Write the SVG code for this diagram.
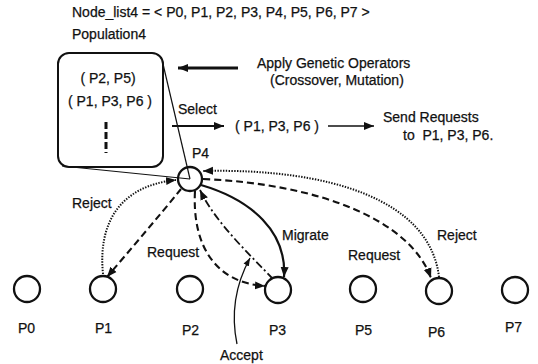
<svg xmlns="http://www.w3.org/2000/svg" width="538" height="364" viewBox="0 0 538 364">
<style>
text{font-family:"Liberation Sans",Arial,sans-serif;font-size:14px;fill:#111;stroke:#111;stroke-width:0.25}
.node{fill:#fff;stroke:#111;stroke-width:2.3}
.c{fill:none;stroke:#111}
.dash{stroke-width:2.1;stroke-dasharray:7 4}
.dot{stroke-width:2;stroke-dasharray:1.4 1.4}
.dd{stroke-width:1.8;stroke-dasharray:8 3 2 3}
</style>
<defs>
<marker id="ah" markerUnits="userSpaceOnUse" markerWidth="12" markerHeight="10" refX="10" refY="5" orient="auto">
<path d="M0,1 L10,5 L0,9 Z" fill="#111"/>
</marker>
<marker id="ahs" markerUnits="userSpaceOnUse" markerWidth="10" markerHeight="8" refX="8" refY="4" orient="auto">
<path d="M0,1 L8,4 L0,7 Z" fill="#111"/>
</marker>
</defs>

<text x="72" y="17">Node_list4 = &lt; P0, P1, P2, P3, P4, P5, P6, P7 &gt;</text>
<text x="72" y="39">Population4</text>

<g id="population-box">
<rect x="58" y="53" width="105" height="114" rx="11" fill="none" stroke="#111" stroke-width="2"/>
<text x="108" y="83" text-anchor="middle">( P2, P5)</text>
<text x="110" y="106" text-anchor="middle">( P1, P3, P6 )</text>
<line x1="106" y1="122" x2="106" y2="153" stroke="#111" stroke-width="3" stroke-dasharray="7 3"/>
</g>

<g id="callout" stroke="#111" stroke-width="1.2" fill="none">
<line x1="163" y1="64" x2="190" y2="179"/>
<line x1="62" y1="166" x2="190" y2="179"/>
</g>

<g id="apply-ops">
<line x1="238" y1="68" x2="178" y2="68" stroke="#111" stroke-width="3" marker-end="url(#ah)"/>
<text x="257" y="68">Apply Genetic Operators</text>
<text x="270" y="85">(Crossover, Mutation)</text>
</g>

<g id="select">
<text x="178" y="114">Select</text>
<line x1="172" y1="126" x2="224" y2="126" stroke="#111" stroke-width="2.2" marker-end="url(#ah)"/>
<text x="235" y="131">( P1, P3, P6 )</text>
<line x1="328" y1="126" x2="374" y2="126" stroke="#111" stroke-width="1.6" marker-end="url(#ah)"/>
<text x="383" y="122">Send Requests</text>
<text x="403" y="140" xml:space="preserve">to  P1, P3, P6.</text>
</g>

<g id="P4">
<circle cx="190" cy="179" r="12" fill="none" stroke="#111" stroke-width="2.3"/>
<text x="192" y="158">P4</text>
</g>

<g id="connectors">
<path class="c dot" d="M103,274 C98,225 118,186 176,180" marker-end="url(#ah)"/>
<path class="c dash" d="M181,189 C160,215 130,250 107,277" marker-end="url(#ah)"/>
<path class="c dash" d="M195,191 C192,245 215,283 265,286" marker-end="url(#ah)"/>
<path class="c dd" d="M273,279 C250,255 215,222 200,190" marker-end="url(#ah)"/>
<path class="c" stroke-width="2.2" d="M201,185 C252,200 287,232 284,277" marker-end="url(#ah)"/>
<path class="c" stroke-width="1.3" d="M237,344 C230,310 238,280 250,258" marker-end="url(#ahs)"/>
<path class="c dash" d="M203,179 C320,184 410,220 431,278" marker-end="url(#ah)"/>
<path class="c dot" d="M439,277 C430,200 330,168 203,171" marker-end="url(#ah)"/>
</g>

<g id="labels">
<text x="72" y="208">Reject</text>
<text x="147" y="257">Request</text>
<text x="282" y="240">Migrate</text>
<text x="348" y="260">Request</text>
<text x="437" y="240">Reject</text>
<text x="220" y="360">Accept</text>
</g>

<g id="P0"><circle class="node" cx="27" cy="289" r="13"/><text x="18" y="333">P0</text></g>
<g id="P1"><circle class="node" cx="103" cy="289" r="13"/><text x="95" y="333">P1</text></g>
<g id="P2"><circle class="node" cx="190" cy="289" r="13"/><text x="182" y="335">P2</text></g>
<g id="P3"><circle class="node" cx="278" cy="290" r="13"/><text x="269" y="335">P3</text></g>
<g id="P5"><circle class="node" cx="363" cy="289" r="13"/><text x="355" y="335">P5</text></g>
<g id="P6"><circle class="node" cx="439" cy="291" r="13"/><text x="428" y="337">P6</text></g>
<g id="P7"><circle class="node" cx="515" cy="290" r="13"/><text x="505" y="332">P7</text></g>
</svg>
